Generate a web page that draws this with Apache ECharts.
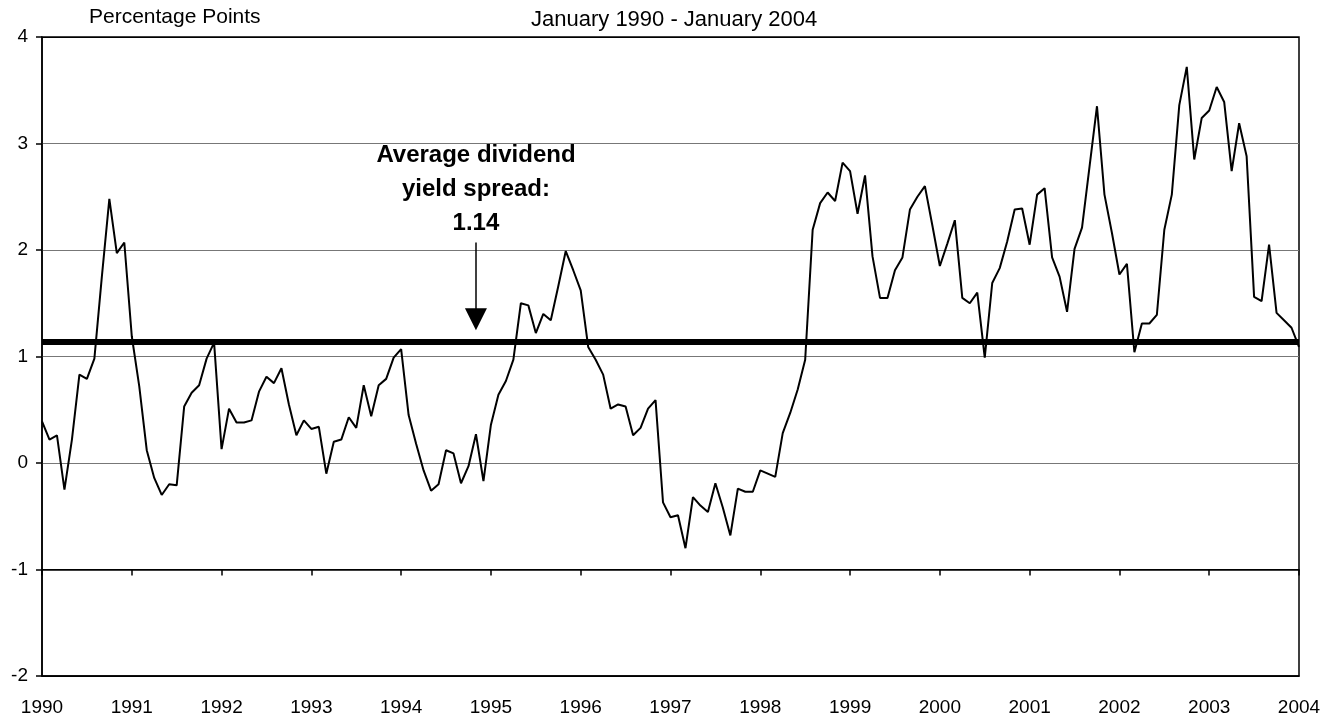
<!DOCTYPE html>
<html>
<head>
<meta charset="utf-8">
<script src="https://cdn.jsdelivr.net/npm/echarts@6/dist/echarts.min.js"></script>
<style>
  html, body { margin: 0; padding: 0; background: #fff; }
  #chart { width: 1337px; height: 723px; }
</style>
</head>
<body>
<div id="chart"></div>
<script>
// tick labels on the x axis (January of each year)
var years = ['1990', '1991', '1992', '1993', '1994', '1995', '1996', '1997',
             '1998', '1999', '2000', '2001', '2002', '2003', '2004'];

// monthly spread, Jan 1990 .. Jan 2004 (percentage points)
var spread = [
  0.39, 0.22, 0.26, -0.25, 0.22, 0.83, 0.79, 0.98, 1.75, 2.48, 1.97, 2.07,   // 1990
  1.19, 0.72, 0.12, -0.14, -0.30, -0.20, -0.21, 0.53, 0.66, 0.73, 0.98, 1.13, // 1991
  0.13, 0.51, 0.38, 0.38, 0.40, 0.67, 0.81, 0.75, 0.89, 0.55, 0.26, 0.40,    // 1992
  0.32, 0.34, -0.10, 0.20, 0.22, 0.43, 0.33, 0.73, 0.44, 0.73, 0.79, 0.99,   // 1993
  1.07, 0.45, 0.18, -0.07, -0.26, -0.20, 0.12, 0.09, -0.19, -0.03, 0.27, -0.17, // 1994
  0.36, 0.64, 0.77, 0.97, 1.50, 1.48, 1.22, 1.40, 1.34, 1.66, 1.99, 1.81,    // 1995
  1.62, 1.09, 0.97, 0.83, 0.51, 0.55, 0.53, 0.26, 0.33, 0.51, 0.59, -0.37,   // 1996
  -0.51, -0.49, -0.80, -0.32, -0.40, -0.46, -0.19, -0.42, -0.68, -0.24, -0.27, -0.27, // 1997
  -0.07, -0.10, -0.13, 0.28, 0.47, 0.69, 0.97, 2.19, 2.44, 2.54, 2.46, 2.82, // 1998
  2.74, 2.34, 2.70, 1.94, 1.55, 1.55, 1.81, 1.93, 2.38, 2.50, 2.60, 2.23,    // 1999
  1.85, 2.06, 2.28, 1.55, 1.50, 1.60, 0.99, 1.69, 1.83, 2.08, 2.38, 2.39,    // 2000
  2.05, 2.52, 2.58, 1.93, 1.75, 1.42, 2.01, 2.21, 2.78, 3.35, 2.52, 2.16,    // 2001
  1.77, 1.87, 1.04, 1.31, 1.31, 1.39, 2.19, 2.52, 3.36, 3.72, 2.85, 3.24,    // 2002
  3.31, 3.53, 3.39, 2.74, 3.19, 2.88, 1.56, 1.52, 2.05, 1.41, 1.34, 1.27,    // 2003
  1.09                                                                         // Jan 2004
];

var avgSpread = 1.14;
var avgLabel = 'Average dividend\nyield spread:\n1.14';
var arrowMonth = 58;          // Nov 1994
var arrowFrom = 2.07, arrowTo = 1.35, labelAt = 2.57;

// month categories built from the years
var months = [];
for (var y = 0; y < years.length - 1; y++) {
    for (var m = 1; m <= 12; m++) {
        months.push(years[y] + '-' + (m < 10 ? '0' + m : m));
    }
}
months.push(years[years.length - 1] + '-01');

var yearTick = function (idx) { return idx % 12 === 0; };
var font = 'Liberation Sans';

var chart = echarts.init(document.getElementById('chart'));

var option = {
    animation: false,
    backgroundColor: '#fff',
    textStyle: { fontFamily: font },
    title: [
        { text: 'Percentage Points', left: 84, top: 2,
          textStyle: { fontSize: 21, fontWeight: 'normal', color: '#000', fontFamily: font } },
        { text: 'January 1990 - January 2004', left: 526, top: 4,
          textStyle: { fontSize: 22, fontWeight: 'normal', color: '#000', fontFamily: font } }
    ],
    grid: [
        { left: 42, right: 38, top: 37, bottom: 47, show: true,
          borderColor: '#000', borderWidth: 1.5, backgroundColor: 'transparent' },
        // same box, bottom at -1 : carries the year ticks
        { left: 42, right: 38, top: 37, bottom: 153.5 }
    ],
    xAxis: [
        {
            gridIndex: 0, type: 'category', data: months, boundaryGap: false,
            axisLine: { onZero: false, lineStyle: { color: '#000', width: 1.5 } },
            axisTick: { show: false },
            axisLabel: {
                interval: function (idx) { return yearTick(idx); },
                formatter: function (v) { return v.slice(0, 4); },
                color: '#000', fontSize: 19, margin: 22, fontFamily: font
            },
            splitLine: { show: false }
        },
        {
            gridIndex: 1, type: 'category', data: months, boundaryGap: false,
            axisLine: { onZero: false, lineStyle: { color: '#000', width: 1.5 } },
            axisTick: { interval: function (idx) { return yearTick(idx); },
                        length: 6, lineStyle: { color: '#000', width: 1.5 } },
            axisLabel: { show: false },
            splitLine: { show: false }
        }
    ],
    yAxis: [
        {
            gridIndex: 0, type: 'value', min: -2, max: 4, interval: 1,
            axisLine: { show: true, lineStyle: { color: '#000', width: 1.5 } },
            axisTick: { show: true, length: 6, lineStyle: { color: '#000', width: 1.5 } },
            axisLabel: { color: '#000', fontSize: 19, margin: 14, fontFamily: font },
            splitLine: { lineStyle: { color: ['#000', '#000', '#777', '#777', '#777', '#777', '#000'], width: 1.2 } }
        },
        {
            gridIndex: 1, type: 'value', min: -1, max: 4, show: false
        }
    ],
    series: [
        {
            type: 'line', xAxisIndex: 0, yAxisIndex: 0, data: spread,
            symbol: 'none', z: 3,
            lineStyle: { color: '#000', width: 2 },
            markLine: {
                silent: true, symbol: ['none', 'none'],
                label: { show: false },
                lineStyle: { color: '#000', width: 6, type: 'solid' },
                data: [{ yAxis: avgSpread }]
            }
        },
        {
            type: 'line', xAxisIndex: 0, yAxisIndex: 0, data: [],
            markLine: {
                silent: true,
                symbol: ['none', 'triangle'], symbolSize: [22, 22],
                label: { show: false },
                lineStyle: { color: '#000', width: 1.5, type: 'solid' },
                itemStyle: { color: '#000' },
                data: [[{ coord: [arrowMonth, arrowFrom] }, { coord: [arrowMonth, arrowTo] }]]
            },
            markPoint: {
                silent: true, symbol: 'circle', symbolSize: 1,
                itemStyle: { color: 'rgba(0,0,0,0)' },
                label: {
                    show: true, position: 'inside', formatter: avgLabel,
                    color: '#000', fontSize: 24, fontWeight: 'bold',
                    lineHeight: 34, align: 'center', fontFamily: font
                },
                data: [{ coord: [arrowMonth, labelAt] }]
            }
        }
    ]
};

chart.setOption(option);
</script>
</body>
</html>
